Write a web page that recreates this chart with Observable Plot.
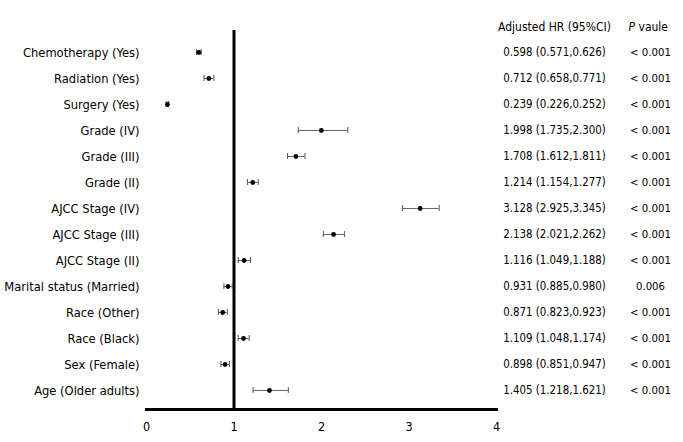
<!DOCTYPE html>
<html>
<head>
<meta charset="utf-8">
<script src="https://cdn.jsdelivr.net/npm/d3@7"></script>
<script src="https://cdn.jsdelivr.net/npm/@observablehq/plot@0.6"></script>
<style>
  html, body { margin: 0; padding: 0; background: #fff; }
  svg { display: block; }
</style>
</head>
<body>
<div id="chart"></div>
<script>
const labels = ["Chemotherapy (Yes)","Radiation (Yes)","Surgery (Yes)","Grade (IV)","Grade (III)","Grade (II)","AJCC Stage (IV)","AJCC Stage (III)","AJCC Stage (II)","Marital status (Married)","Race (Other)","Race (Black)","Sex (Female)","Age (Older adults)"];
const hr = [0.598,0.712,0.239,1.998,1.708,1.214,3.128,2.138,1.116,0.931,0.871,1.109,0.898,1.405];
const lo = [0.571,0.658,0.226,1.735,1.612,1.154,2.925,2.021,1.049,0.885,0.823,1.048,0.851,1.218];
const hi = [0.626,0.771,0.252,2.300,1.811,1.277,3.345,2.262,1.188,0.980,0.923,1.174,0.947,1.621];
const pvals = ["< 0.001","< 0.001","< 0.001","< 0.001","< 0.001","< 0.001","< 0.001","< 0.001","< 0.001","0.006","< 0.001","< 0.001","< 0.001","< 0.001"];
const xTicks = [0,1,2,3,4];
const headerHR = "Adjusted HR (95%CI)";
const headerP = "P";
const headerP2 = "vaule";

const rows = labels.map((label, i) => ({
  label, hr: hr[i], lo: lo[i], hi: hi[i],
  text: `${hr[i].toFixed(3)} (${lo[i].toFixed(3)},${hi[i].toFixed(3)})`,
  p: pvals[i]
}));

const font = "'DejaVu Sans Condensed', 'DejaVu Sans', sans-serif";

const plot = Plot.plot({
  width: 683,
  height: 442,
  marginLeft: 146,
  marginRight: 187,
  marginTop: 30,
  marginBottom: 33,
  style: {fontFamily: font, fontSize: "12.5px", color: "#000", background: "#fff", fontStretch: "condensed"},
  x: {domain: [0, 4], ticks: xTicks},
  y: {type: "band", domain: labels, range: [25.8, 416.3], padding: 0.78},
  marks: [
    Plot.axisX({ticks: xTicks, tickFormat: d => String(d), tickSize: 0, tickPadding: 13, label: null, fontSize: 12.5}),
    Plot.axisY({tickSize: 0, tickPadding: 7, label: null, fontSize: 12.8}),
    Plot.ruleX([1], {stroke: "#000", strokeWidth: 3}),
    Plot.frame({anchor: "bottom", stroke: "#000", strokeWidth: 3, strokeLinecap: "square"}),
    Plot.ruleY(rows, {y: "label", x1: "lo", x2: "hi", stroke: "#666", strokeWidth: 1}),
    Plot.tickX(rows, {x: "lo", y: "label", stroke: "#555", strokeWidth: 1}),
    Plot.tickX(rows, {x: "hi", y: "label", stroke: "#555", strokeWidth: 1}),
    Plot.dot(rows, {x: "hr", y: "label", r: 2.4, fill: "#000", stroke: null}),
    Plot.text(rows, {y: "label", text: "text", frameAnchor: "right", dx: 58, textAnchor: "middle", fontSize: 11.4}),
    Plot.text(rows, {y: "label", text: "p", frameAnchor: "right", dx: 154, textAnchor: "middle", fontSize: 11.3}),
    Plot.text([headerHR], {text: d => d, frameAnchor: "top-right", dx: 58, dy: -8, textAnchor: "middle", fontSize: 12}),
    Plot.text([headerP], {text: d => d, frameAnchor: "top-right", dx: 132, dy: -8, textAnchor: "start", fontStyle: "italic", fontSize: 12}),
    Plot.text([headerP2], {text: d => d, frameAnchor: "top-right", dx: 142, dy: -8, textAnchor: "start", fontSize: 12})
  ]
});
document.getElementById("chart").appendChild(plot);
</script>
</body>
</html>
